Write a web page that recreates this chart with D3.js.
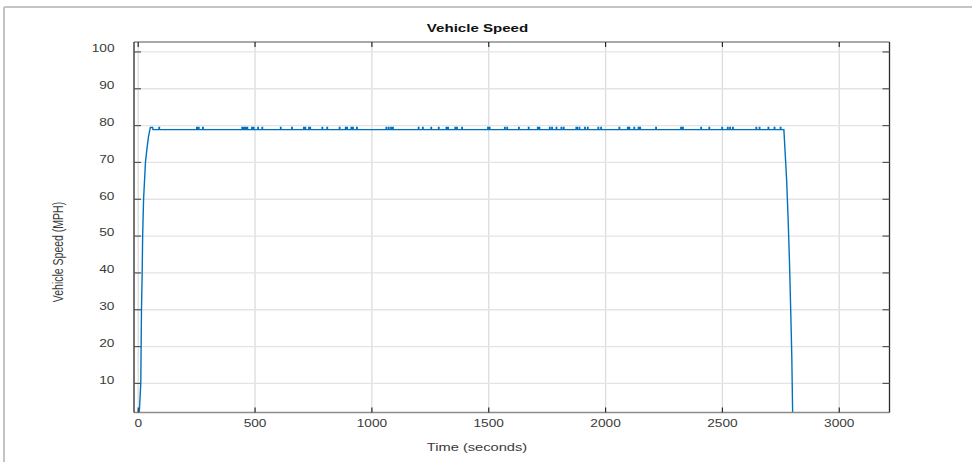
<!DOCTYPE html>
<html>
<head>
<meta charset="utf-8">
<script src="https://cdn.jsdelivr.net/npm/d3@7/dist/d3.min.js"></script>
<style>
  html, body { margin: 0; padding: 0; background: #ffffff; }
  svg { display: block; }
  text { font-family: "Liberation Sans", Arial, Helvetica, sans-serif; fill: #3a3a3a; }
</style>
</head>
<body>
<svg id="chart" width="972" height="462"></svg>
<script>
// Vehicle speed trace (MPH) over a drive of roughly 2800 s

// Acceleration from standstill
const rampUpTime  = [3, 11, 14, 17, 19, 23, 31, 38, 44, 52, 62, 63];
const rampUpSpeed = [0, 10, 30, 40, 50, 60, 70, 74, 77, 79.5, 79.5, 78.9];

// Cruise: steady speed with brief one-step blips up
const cruiseSpeed = 78.9;
const blipSpeed = 79.5;
const blipDuration = 2;
const blipTimes = [
  89, 250, 258, 276, 444, 452, 459, 466, 486, 493, 512, 530, 609, 657,
  708, 714, 730, 735, 787, 808, 861, 887, 893, 911, 918, 935,
  1061, 1071, 1081, 1089, 1199, 1217, 1253, 1285, 1318, 1325, 1356, 1363,
  1385, 1496, 1503, 1568, 1578, 1628, 1670, 1709, 1716, 1760, 1770, 1789,
  1810, 1820, 1874, 1877, 1887, 1911, 1923, 1968, 1980, 2058, 2094, 2101,
  2122, 2140, 2147, 2215, 2322, 2330, 2408, 2443, 2498, 2522, 2532, 2544,
  2644, 2658, 2696, 2722, 2748
];

// Deceleration to a stop
const rampDownTime  = [2763, 2769, 2775, 2781, 2787, 2793, 2797, 2800, 2801];
const rampDownSpeed = [78.9, 72, 65, 55, 43, 28, 17, 4, 0];

// Axis ticks
const xTicks = [0, 500, 1000, 1500, 2000, 2500, 3000];
const yTicks = [10, 20, 30, 40, 50, 60, 70, 80, 90, 100];
const xDomain = [-18, 3215];
const yDomain = [2.1, 102.7];

// Assemble the full trace
const trace = [];
rampUpTime.forEach((t, i) => trace.push([t, rampUpSpeed[i]]));
blipTimes.forEach(t => {
  trace.push([t, cruiseSpeed], [t, blipSpeed],
             [t + blipDuration, blipSpeed], [t + blipDuration, cruiseSpeed]);
});
rampDownTime.forEach((t, i) => trace.push([t, rampDownSpeed[i]]));

const svg = d3.select("#chart");
const W = 972, H = 462;
const box = { left: 134, right: 889.5, top: 42, bottom: 412.5 };
const sx = 1.37; // horizontal stretch of the glyphs

const x = d3.scaleLinear().domain(xDomain).range([box.left, box.right]);
const y = d3.scaleLinear().domain(yDomain).range([box.bottom, box.top]);

svg.append("rect").attr("width", W).attr("height", H).attr("fill", "#ffffff");

// Outer figure frame
svg.append("line").attr("x1", 4).attr("x2", W).attr("y1", 7).attr("y2", 7)
  .attr("stroke", "#c4c4c4").attr("stroke-width", 2);
svg.append("line").attr("x1", 4).attr("x2", 4).attr("y1", 7).attr("y2", H)
  .attr("stroke", "#c4c4c4").attr("stroke-width", 2);

function label(x0, y0, str, opts) {
  const o = Object.assign({ size: 10, anchor: "middle", weight: "normal", rotate: 0, fill: "#3a3a3a" }, opts || {});
  return svg.append("text")
    .attr("transform", `translate(${x0},${y0}) scale(${sx},1)` + (o.rotate ? ` rotate(${o.rotate})` : ""))
    .attr("text-anchor", o.anchor)
    .attr("dominant-baseline", "central")
    .attr("font-size", o.size)
    .attr("font-weight", o.weight)
    .style("fill", o.fill)
    .text(str);
}

// Grid
const grid = svg.append("g");
grid.selectAll(".gx").data(xTicks).join("line")
  .attr("x1", d => x(d)).attr("x2", d => x(d))
  .attr("y1", box.top).attr("y2", box.bottom)
  .attr("stroke", "#dcdcdc").attr("stroke-width", 1.3);
grid.selectAll(".gy").data(yTicks).join("line")
  .attr("x1", box.left).attr("x2", box.right)
  .attr("y1", d => y(d)).attr("y2", d => y(d))
  .attr("stroke", "#e4e4e4").attr("stroke-width", 1.3);

// Speed trace
svg.append("clipPath").attr("id", "plotClip")
  .append("rect").attr("x", box.left).attr("y", box.top)
  .attr("width", box.right - box.left).attr("height", box.bottom - box.top);

const line = d3.line().x(d => x(d[0])).y(d => y(d[1]));
svg.append("path")
  .attr("clip-path", "url(#plotClip)")
  .attr("d", line(trace))
  .attr("fill", "none")
  .attr("stroke", "#0072BD")
  .attr("stroke-width", 1.4)
  .attr("stroke-linejoin", "miter");

// Axes box with inward ticks
const axes = svg.append("g");
axes.append("line").attr("x1", box.left).attr("x2", box.right).attr("y1", box.top).attr("y2", box.top)
  .attr("stroke", "#8c8c8c").attr("stroke-width", 1.5);
axes.append("line").attr("x1", box.left).attr("x2", box.right).attr("y1", box.bottom).attr("y2", box.bottom)
  .attr("stroke", "#8c8c8c").attr("stroke-width", 1.5);
axes.append("line").attr("x1", box.left).attr("x2", box.left).attr("y1", box.top).attr("y2", box.bottom)
  .attr("stroke", "#2a2a2a").attr("stroke-width", 1.3);
axes.append("line").attr("x1", box.right).attr("x2", box.right).attr("y1", box.top).attr("y2", box.bottom)
  .attr("stroke", "#2a2a2a").attr("stroke-width", 1.3);

const tickLenX = 5, tickLenY = 7;
xTicks.forEach(t => {
  axes.append("line").attr("x1", x(t)).attr("x2", x(t)).attr("y1", box.bottom).attr("y2", box.bottom - tickLenX)
    .attr("stroke", "#2a2a2a").attr("stroke-width", 1.2);
  axes.append("line").attr("x1", x(t)).attr("x2", x(t)).attr("y1", box.top).attr("y2", box.top + tickLenX)
    .attr("stroke", "#2a2a2a").attr("stroke-width", 1.2);
  label(x(t), box.bottom + 11.5, String(t));
});
yTicks.forEach(t => {
  axes.append("line").attr("x1", box.left).attr("x2", box.left + tickLenY).attr("y1", y(t)).attr("y2", y(t))
    .attr("stroke", "#555555").attr("stroke-width", 1.2);
  axes.append("line").attr("x1", box.right).attr("x2", box.right - tickLenY).attr("y1", y(t)).attr("y2", y(t))
    .attr("stroke", "#555555").attr("stroke-width", 1.2);
  label(114.5, y(t) - 3, String(t), { anchor: "end" });
});

// Titles
label(477.5, 28, "Vehicle Speed", { size: 11, weight: "bold", fill: "#111111" });
label(477, 447, "Time (seconds)", { size: 10.7 });
label(58, 252, "Vehicle Speed (MPH)", { size: 10.5, rotate: -90 });
</script>
</body>
</html>
